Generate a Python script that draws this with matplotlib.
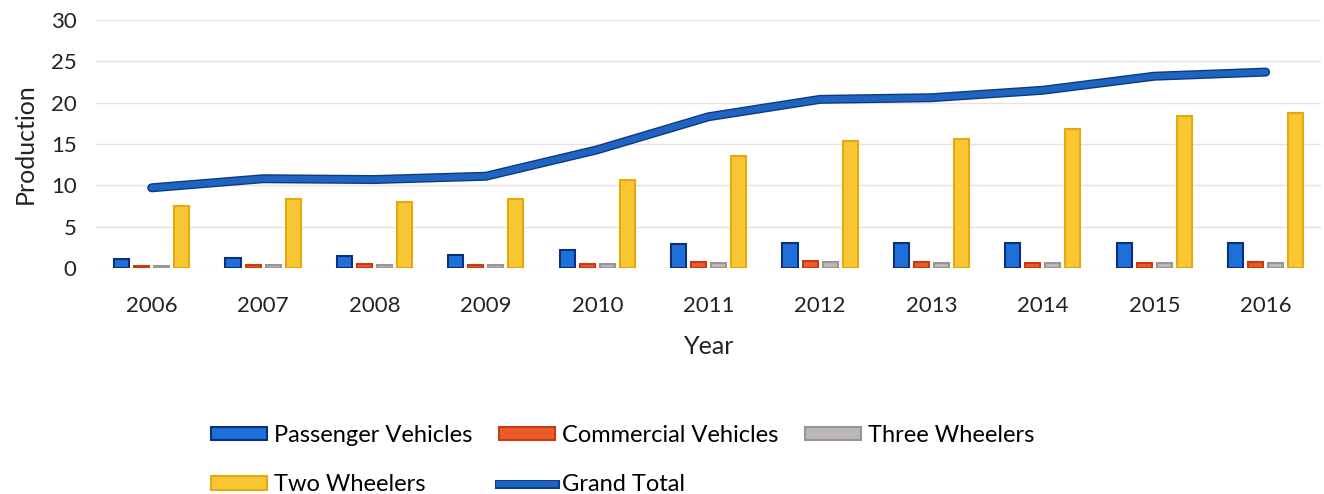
import numpy as np
import matplotlib.pyplot as plt
import matplotlib.patheffects as pe
from matplotlib.lines import Line2D
from matplotlib.patches import Patch

plt.rcParams['font.family'] = ['Lato', 'DejaVu Sans']

years = ['2006', '2007', '2008', '2009', '2010', '2011',
         '2012', '2013', '2014', '2015', '2016']
passenger = [1.1, 1.2, 1.4, 1.6, 2.2, 2.9, 3.0, 3.0, 3.0, 3.0, 3.0]
commercial = [0.3, 0.4, 0.5, 0.4, 0.5, 0.7, 0.8, 0.7, 0.6, 0.6, 0.7]
three_wheelers = [0.3, 0.4, 0.4, 0.4, 0.5, 0.6, 0.7, 0.6, 0.6, 0.6, 0.6]
two_wheelers = [7.5, 8.4, 8.0, 8.4, 10.6, 13.5, 15.4, 15.6, 16.8, 18.4, 18.7]
grand_total = [9.7, 10.8, 10.7, 11.1, 14.3, 18.3, 20.4, 20.6, 21.5, 23.2, 23.7]

series = [
    ('Passenger Vehicles', passenger, '#1f6fd8', '#0c2f7c'),
    ('Commercial Vehicles', commercial, '#ec5a2a', '#c63c12'),
    ('Three Wheelers', three_wheelers, '#bdb8b8', '#9a9494'),
    ('Two Wheelers', two_wheelers, '#f8c733', '#e4a90c'),
]

fig = plt.figure(figsize=(13.24, 4.94), dpi=100)
ax = fig.add_axes([0.0725, 0.4575, 0.9255, 0.502])

x = np.arange(len(years))
width = 0.135
offsets = [-0.27, -0.09, 0.09, 0.27]
for (name, vals, col, edge), off in zip(series, offsets):
    ax.bar(x + off, vals, width, color=col, edgecolor=edge, linewidth=1.5, zorder=3)

line_fx = [pe.Stroke(linewidth=6.5, foreground='#0d3a80'), pe.Normal()]
ax.plot(x, grand_total, color='#1f64c0', linewidth=4.5, solid_capstyle='round', zorder=4,
        path_effects=line_fx)

ax.set_xlim(-0.5, 10.5)
ax.set_ylim(0, 30)
ax.set_yticks(range(0, 31, 5))
ax.set_xticks(x)
ax.set_xticklabels(years)
ax.yaxis.grid(True, color='#eadfdf', linewidth=1.0, zorder=0)
for s in ax.spines.values():
    s.set_visible(False)
ax.tick_params(axis='both', length=0, labelsize=16, colors='#222222')
ax.tick_params(axis='x', pad=20)
ax.tick_params(axis='y', pad=14)
ax.set_xlabel('Year', fontsize=18, color='#222222', labelpad=14)
ax.set_ylabel('Production', fontsize=18, color='#222222', labelpad=10)

patches = [Patch(facecolor=c, edgecolor=e, linewidth=1.5, label=n) for n, _, c, e in series]
total_handle = Line2D([0], [0], color='#1f64c0', linewidth=4.5, label='Grand Total',
                      path_effects=line_fx)
# legend fills column by column, so order the handles to read row by row
handles = [patches[0], patches[3], patches[1], total_handle, patches[2]]
fig.legend(handles=handles, ncol=3, loc='upper left', bbox_to_anchor=(0.159, 0.14),
           frameon=False, fontsize=17, handlelength=2.4, handleheight=0.5,
           handletextpad=0.3, columnspacing=1.1, labelspacing=1.2, borderaxespad=0,
           borderpad=0)

fig.savefig('out.png', dpi=100)
